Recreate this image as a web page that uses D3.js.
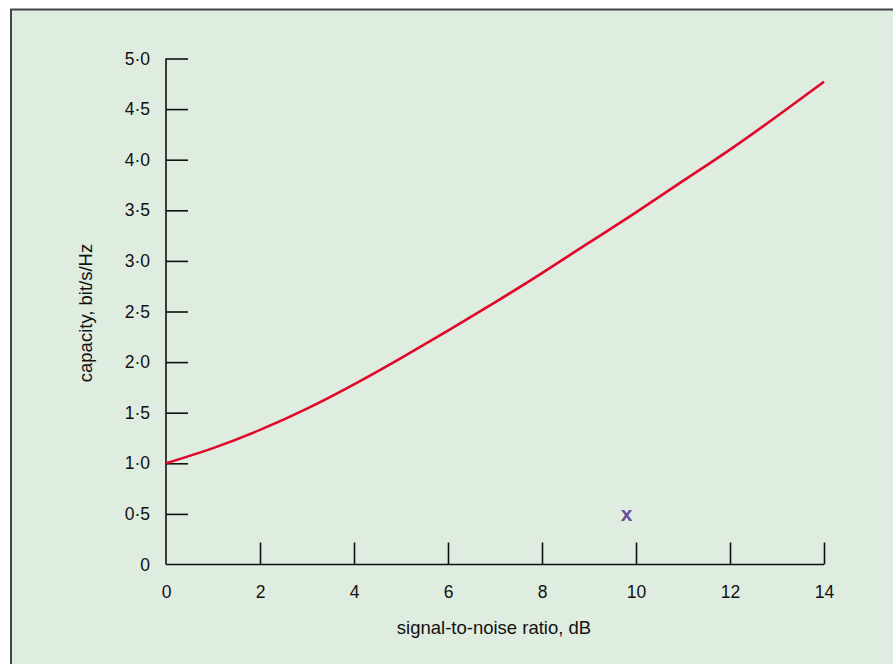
<!DOCTYPE html>
<html><head><meta charset="utf-8">
<script src="https://cdn.jsdelivr.net/npm/d3@7"></script>
<style>html,body{margin:0;padding:0;background:#fff;}svg{display:block;}</style>
</head><body>
<svg id="chart" width="893" height="664"></svg>
<script>
const snrDb = [0,1,2,3,4,5,6,7,8,9,10,11,12,13,14];
const capacity = [1.0,1.15,1.33,1.54,1.78,2.04,2.31,2.59,2.88,3.18,3.48,3.79,4.10,4.43,4.77];
const xTicks = [0,2,4,6,8,10,12,14];
const yTicks = [0,0.5,1,1.5,2,2.5,3,3.5,4,4.5,5];
const yTickLabels = ["0","0·5","1·0","1·5","2·0","2·5","3·0","3·5","4·0","4·5","5·0"];
const markerPoint = [{x:9.8, y:0.5, label:"x"}];
const xTitle = "signal-to-noise ratio, dB";
const yTitle = "capacity, bit/s/Hz";

const svg = d3.select("#chart");
svg.append("rect").attr("x",11).attr("y",9.5).attr("width",900).attr("height",700)
  .attr("fill","#dfece0").attr("stroke","#444").attr("stroke-width",2);

const x = d3.scaleLinear().domain([0,14]).range([166,824]);
const y = d3.scaleLinear().domain([0,5]).range([564.5,58.5]);
const font = "Liberation Sans, Arial, Helvetica, sans-serif";

// x axis
const xAxis = d3.axisBottom(x).tickValues(xTicks).tickSize(-22).tickPadding(33)
  .tickFormat(d3.format("d"));
const gx = svg.append("g").attr("transform","translate(0,564.5)").call(xAxis);
gx.select(".domain").attr("stroke","#111").attr("stroke-width",1.6).attr("d","M166,0H824");
gx.selectAll(".tick line").attr("stroke","#111").attr("stroke-width",1.6);
gx.selectAll(".tick").filter(d=>d===0).select("line").remove();
gx.selectAll("text").attr("font-family",font).attr("font-size",17.5).attr("fill","#111").attr("dy","0");

// y axis
const yAxis = d3.axisLeft(y).tickValues(yTicks).tickSize(-22).tickPadding(16)
  .tickFormat((d,i)=>yTickLabels[i]);
const gy = svg.append("g").attr("transform","translate(166,0)").call(yAxis);
gy.select(".domain").attr("stroke","#111").attr("stroke-width",1.6).attr("d","M0,564.5V58.5");
gy.selectAll(".tick line").attr("stroke","#111").attr("stroke-width",1.6);
gy.selectAll(".tick").filter(d=>d===0).select("line").remove();
gy.selectAll("text").attr("font-family",font).attr("font-size",17.5).attr("fill","#111");

// curve
const line = d3.line().x((d,i)=>x(snrDb[i])).y(d=>y(d)).curve(d3.curveNatural);
svg.append("path").datum(capacity).attr("d",line).attr("fill","none")
  .attr("stroke","#e2062b").attr("stroke-width",2.6);

// marker
svg.selectAll(".mk").data(markerPoint).enter().append("text")
  .attr("x",d=>x(d.x)).attr("y",d=>y(d.y)).attr("dy","0.35em")
  .attr("text-anchor","middle").attr("font-family",font).attr("font-weight","bold")
  .attr("font-size",21).attr("fill","#6b4d9e").text(d=>d.label);

// titles
svg.append("text").attr("x",494).attr("y",634).attr("text-anchor","middle")
  .attr("font-family",font).attr("font-size",18.5).attr("fill","#111").text(xTitle);
svg.append("text").attr("transform","translate(92,313) rotate(-90)").attr("text-anchor","middle")
  .attr("font-family",font).attr("font-size",18.5).attr("fill","#111").text(yTitle);
</script>
</body></html>
